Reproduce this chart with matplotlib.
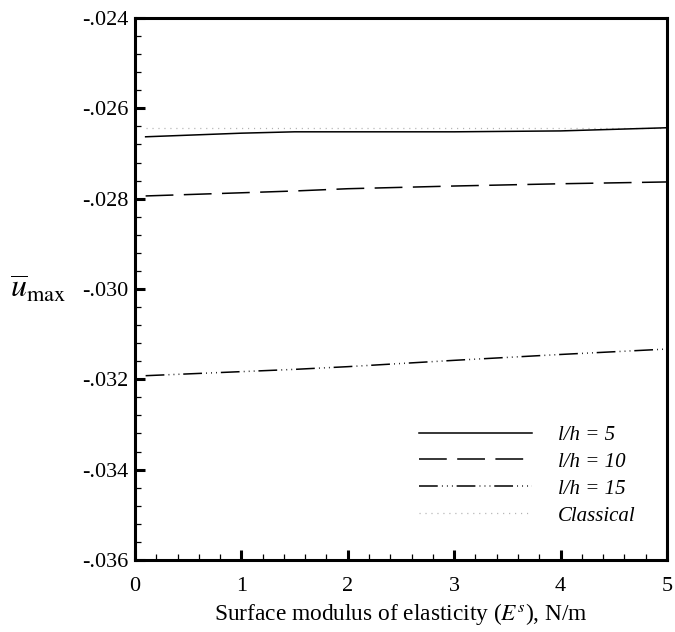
import numpy as np
import matplotlib
matplotlib.use("Agg")
import matplotlib.pyplot as plt
from matplotlib.ticker import MultipleLocator, FuncFormatter
from matplotlib.lines import Line2D

plt.rcParams['font.family'] = ['Liberation Serif', 'DejaVu Serif']
plt.rcParams['mathtext.fontset'] = 'stix'
plt.rcParams['lines.scale_dashes'] = False

# surface modulus of elasticity, N/m
es = [0.1, 1.0, 1.5, 2.0, 3.0, 4.0, 5.0]
# maximum deflection for each slenderness ratio
u_lh5 = [-0.02663, -0.02655, -0.02652, -0.02652, -0.02652, -0.02650, -0.02643]
u_lh10 = [-0.02794, -0.02787, -0.02783, -0.02778, -0.02772, -0.02767, -0.02763]
u_lh15 = [-0.03192, -0.03183, -0.03178, -0.03172, -0.03158, -0.03145, -0.03133]
u_classical = [-0.02644, -0.02644, -0.02644, -0.02644, -0.02644, -0.02644, -0.02644]

labels = ['l/h = 5', 'l/h = 10', 'l/h = 15', 'Classical']

fig = plt.figure(figsize=(6.75, 6.32), dpi=100)
ax = fig.add_axes([0.2, 0.114, 0.788, 0.8575])

lw = 1.1
dash10 = (20, 7.5)
dash15 = (13.5, 3, 0.6, 3, 0.6, 3, 0.6, 2.8)
dotcl = (0.8, 3.5)
ax.plot(es, u_classical, color='#b0b0b0', lw=0.9, dashes=dotcl)
ax.plot(es, u_lh5, color='black', lw=lw)
ax.plot(es, u_lh10, color='black', lw=lw, dashes=dash10)
ax.plot(es, u_lh15, color='black', lw=lw, dashes=dash15)

ax.set_xlim(0, 5)
ax.set_ylim(-0.036, -0.024)
ax.xaxis.set_major_locator(MultipleLocator(1))
ax.xaxis.set_minor_locator(MultipleLocator(0.2))
ax.yaxis.set_major_locator(MultipleLocator(0.002))
ax.yaxis.set_minor_locator(MultipleLocator(0.0004))
ax.yaxis.set_major_formatter(FuncFormatter(lambda v, p: ('%.3f' % v).replace('0.', '.')))
ax.xaxis.set_major_formatter(FuncFormatter(lambda v, p: '%d' % round(v)))

ax.tick_params(which='both', direction='in', top=False, right=False, labelsize=16)
ax.tick_params(which='major', length=7, width=2.2, pad=5)
ax.tick_params(which='minor', length=4, width=0.9)
ax.tick_params(axis='x', which='major', pad=12)
for s in ax.spines.values():
    s.set_linewidth(2.2)

ax.set_xlabel('Surface modulus of elasticity ($E^s$), N/m', fontsize=16.8, labelpad=4)
fig.text(0.015, 1 - 289 / 632, r'$\overline{u}_{\mathrm{max}}$', fontsize=23,
         va='center', ha='left')

handles = [
    Line2D([], [], color='black', lw=lw),
    Line2D([], [], color='black', lw=lw, dashes=dash10),
    Line2D([], [], color='black', lw=lw, dashes=dash15),
    Line2D([], [], color='#b0b0b0', lw=0.9, dashes=dotcl),
]
leg = ax.legend(handles, labels, loc='upper left', bbox_to_anchor=(0.4987, 0.283),
                frameon=False, handlelength=5.43, handletextpad=1.25,
                labelspacing=0.35, prop={'style': 'italic', 'size': 15})

fig.savefig('out.png', dpi=100)
